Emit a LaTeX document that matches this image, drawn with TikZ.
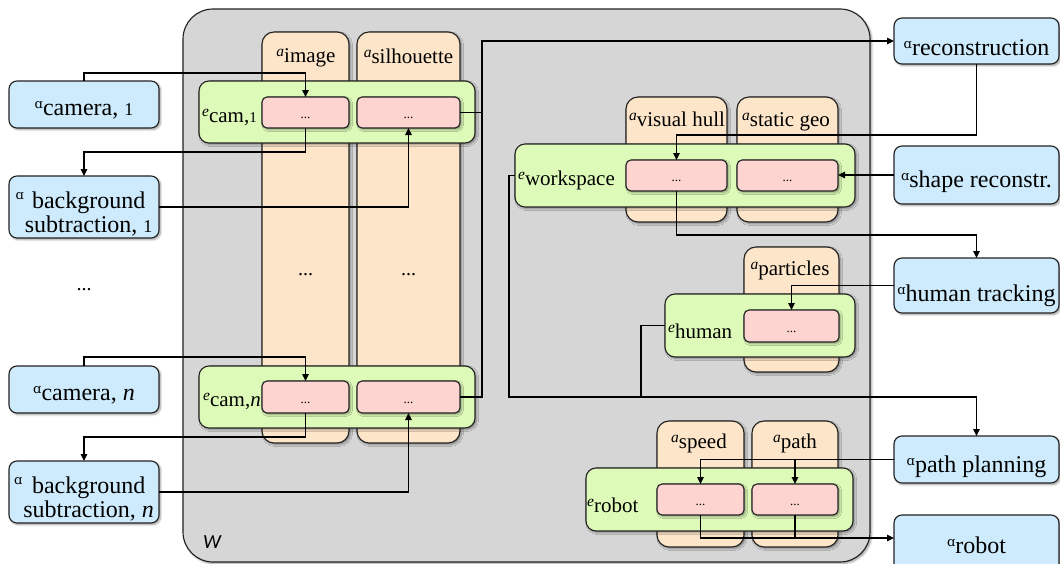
\documentclass[tikz,border=0pt]{standalone}
\usepackage{fontspec}
\setmainfont{Liberation Serif}
\newfontfamily\alphafont{DejaVu Serif}
\newfontfamily\wfont{Carlito}
\usetikzlibrary{arrows.meta,shadows.blur}

\definecolor{wsgray}{RGB}{214,214,214}
\definecolor{artorange}{RGB}{253,229,201}
\definecolor{entgreen}{RGB}{222,250,185}
\definecolor{cellpink}{RGB}{253,212,208}
\definecolor{agentblue}{RGB}{205,235,252}
\definecolor{edgeink}{RGB}{35,35,35}

% small raised prefixes: italic a / e, and the agent alpha
\newcommand{\pfx}[1]{\raisebox{6pt}{\fontsize{15.5}{15.5}\selectfont\itshape #1}}
\newcommand{\alf}{\raisebox{7pt}{\fontsize{13}{13}\selectfont\alphafont ɑ}}
\newcommand{\alfhigh}{\raisebox{33pt}{\fontsize{13}{13}\selectfont\alphafont ɑ}}
\newcommand{\sone}{{\fontsize{18}{18}\selectfont 1}}
\newcommand{\lone}{{\fontsize{15}{15}\selectfont 1}}

\begin{document}
\begin{tikzpicture}[x=1pt,y=-1pt,
  softshadow/.style={blur shadow={shadow xshift=1.6pt,shadow yshift=-1.6pt,
      shadow blur radius=2pt,shadow blur steps=6,shadow opacity=40}},
  boxframe/.style={draw=edgeink,line width=1.15pt,inner sep=0pt,outer sep=0pt,softshadow},
  wbox/.style={boxframe,fill=wsgray,rounded corners=30pt},
  abox/.style={boxframe,fill=artorange,rounded corners=12pt},
  ebox/.style={boxframe,fill=entgreen,rounded corners=10pt},
  cbox/.style={boxframe,fill=cellpink,rounded corners=5pt,
      font=\fontsize{13}{13}\selectfont,text height=12pt,text depth=0pt},
  agbox/.style={boxframe,fill=agentblue,rounded corners=8pt,minimum width=150pt,
      font=\fontsize{24}{23}\selectfont,text depth=0pt},
  alabel/.style={anchor=base,inner sep=0pt,font=\fontsize{21}{22}\selectfont},
  elabel/.style={anchor=base west,inner sep=0pt,font=\fontsize{21}{22}\selectfont},
  dotsnode/.style={anchor=base,inner sep=0pt,font=\fontsize{20}{20}\selectfont},
  wire/.style={draw=black,line width=1.15pt},
  arrowwire/.style={wire,-{Triangle[length=7pt,width=6.5pt]}},
]
\useasboundingbox (0,0) rectangle (1060,563);

% workspace container
\node[wbox,minimum width=687pt,minimum height=553pt] (world) at (526.5,285.5) {};
\node[anchor=base west,inner sep=0pt,font=\wfont\fontsize{20}{20}\selectfont\itshape] (wname) at (203,548) {W};

% artifact columns
\node[abox,minimum width=87pt,minimum height=411pt] (colimg) at (305.5,237.5) {};
\node[abox,minimum width=103pt,minimum height=411pt] (colsil) at (408.5,237.5) {};
\node[abox,minimum width=101pt,minimum height=125pt] (colvh) at (676.5,159.5) {};
\node[abox,minimum width=101pt,minimum height=125pt] (colsg) at (787.5,159.5) {};
\node[abox,minimum width=95pt,minimum height=125pt] (colpart) at (791.5,309.5) {};
\node[abox,minimum width=87pt,minimum height=126pt] (colspd) at (700.5,484) {};
\node[abox,minimum width=86pt,minimum height=126pt] (colpth) at (795,484) {};

\node[alabel] (limg) at (306,62) {\pfx{a}image};
\node[alabel] (lsil) at (408.5,63) {\pfx{a}silhouette};
\node[alabel] (lvh) at (677,126) {\pfx{a}visual hull};
\node[alabel] (lsg) at (786,126) {\pfx{a}static geo};
\node[alabel] (lpart) at (790,275) {\pfx{a}particles};
\node[alabel] (lspd) at (699,448) {\pfx{a}speed};
\node[alabel] (lpth) at (795,448) {\pfx{a}path};

\node[dotsnode] (dimg) at (305.5,275) {...};
\node[dotsnode] (dsil) at (408.5,275) {...};
\node[dotsnode] (dcam) at (84,290) {...};

% environments
\node[ebox,minimum width=276pt,minimum height=62pt] (ecam1) at (337,112) {};
\node[ebox,minimum width=276pt,minimum height=62pt] (ecamn) at (337,397) {};
\node[ebox,minimum width=340pt,minimum height=63pt] (ews) at (685,175.5) {};
\node[ebox,minimum width=190pt,minimum height=63pt] (ehum) at (760,325.5) {};
\node[ebox,minimum width=267pt,minimum height=63pt] (erob) at (719.5,499.5) {};

\node[elabel] (lecam1) at (202,122) {\pfx{e}cam,\lone};
\node[elabel] (lecamn) at (203,406) {\pfx{e}cam,\textit{n}};
\node[elabel] (lews) at (518,185) {\pfx{e}workspace};
\node[elabel] (lehum) at (668,338) {\pfx{e}human};
\node[elabel] (lerob) at (587,512) {\pfx{e}robot};

% artifact cells inside the environments
\node[cbox,minimum width=87pt,minimum height=31pt] (img1) at (305.5,112.5) {...};
\node[cbox,minimum width=103pt,minimum height=31pt] (sil1) at (408.5,112.5) {...};
\node[cbox,minimum width=87pt,minimum height=32pt] (imgn) at (305.5,397) {...};
\node[cbox,minimum width=103pt,minimum height=32pt] (siln) at (408.5,397) {...};
\node[cbox,minimum width=101pt,minimum height=31pt] (vh) at (676.5,175.5) {...};
\node[cbox,minimum width=101pt,minimum height=31pt] (sg) at (787.5,175.5) {...};
\node[cbox,minimum width=95pt,minimum height=32pt] (part) at (791.5,326) {...};
\node[cbox,minimum width=87pt,minimum height=31pt] (spd) at (700.5,499.5) {...};
\node[cbox,minimum width=86pt,minimum height=31pt] (pth) at (795,499.5) {...};

% agents
\node[agbox,minimum height=47pt,text height=21pt] (cam1) at (84,104.5) {\alf camera, \sone};
\node[agbox,minimum height=62pt,text height=50pt] (bg1) at (84,207)
  {\alfhigh\hspace{1pt}\begin{tabular}[b]{@{}c@{}}background\\subtraction, \sone\end{tabular}};
\node[agbox,minimum height=47pt,text height=21pt] (camn) at (84,389.5) {\alf camera, \textit{n}};
\node[agbox,minimum height=62pt,text height=50pt] (bgn) at (84,492)
  {\alfhigh\hspace{1pt}\begin{tabular}[b]{@{}c@{}}background\\subtraction, \textit{n}\end{tabular}};
\node[agbox,minimum width=165pt,minimum height=46pt,text height=28pt] (recon) at (976.5,41) {\alf reconstruction};
\node[agbox,minimum width=165pt,minimum height=58pt,text height=24pt] (shape) at (976.5,175) {\alf shape reconstr.};
\node[agbox,minimum width=165pt,minimum height=55pt,text height=31pt] (htrack) at (976.5,285.5) {\alf human tracking};
\node[agbox,minimum width=165pt,minimum height=47pt,text height=25pt] (pplan) at (976.5,459.5) {\alf path planning};
\node[agbox,minimum width=165pt,minimum height=60pt,text height=16pt] (robot) at (976.5,545) {\alf robot};

% connectors
\draw[arrowwire] (cam1.north) -- ++(0,-8) -| (img1.north);
\draw[arrowwire] (img1.south) -- ++(0,24) -| (bg1.north);
\draw[arrowwire] (bg1.east) -| (sil1.south);
\draw[arrowwire] (camn.north) -- ++(0,-9) -| (imgn.north);
\draw[arrowwire] (imgn.south) -- ++(0,24) -| (bgn.north);
\draw[arrowwire] (bgn.east) -| (siln.south);
\draw[arrowwire] (sil1.east) -- ++(22,0) |- (recon.west);
\draw[wire] (siln.east) -- ++(22,0) |- (sil1.east);
\draw[arrowwire] (recon.south) -- ++(0,71) -| (vh.north);
\draw[arrowwire] (shape.west) -- (shape.west -| sg.east);
\draw[arrowwire] (vh.south) -- ++(0,44) -| (htrack.north);
\draw[arrowwire] (htrack.west) -| (part.north);
\draw[arrowwire] (ews.west) -- ++(-6,0) -- ++(0,221.5) -| (pplan.north);
\draw[wire] (ehum.west) -- ++(-24,0) -- ++(0,71.5);
\draw[arrowwire] (pplan.west) -| (spd.north);
\draw[arrowwire] (pplan.west) -| (pth.north);
\draw[arrowwire] (spd.south) |- ([yshift=7pt]robot.west);
\draw[wire] (pth.south) -- ++(0,23);
\end{tikzpicture}
\end{document}
